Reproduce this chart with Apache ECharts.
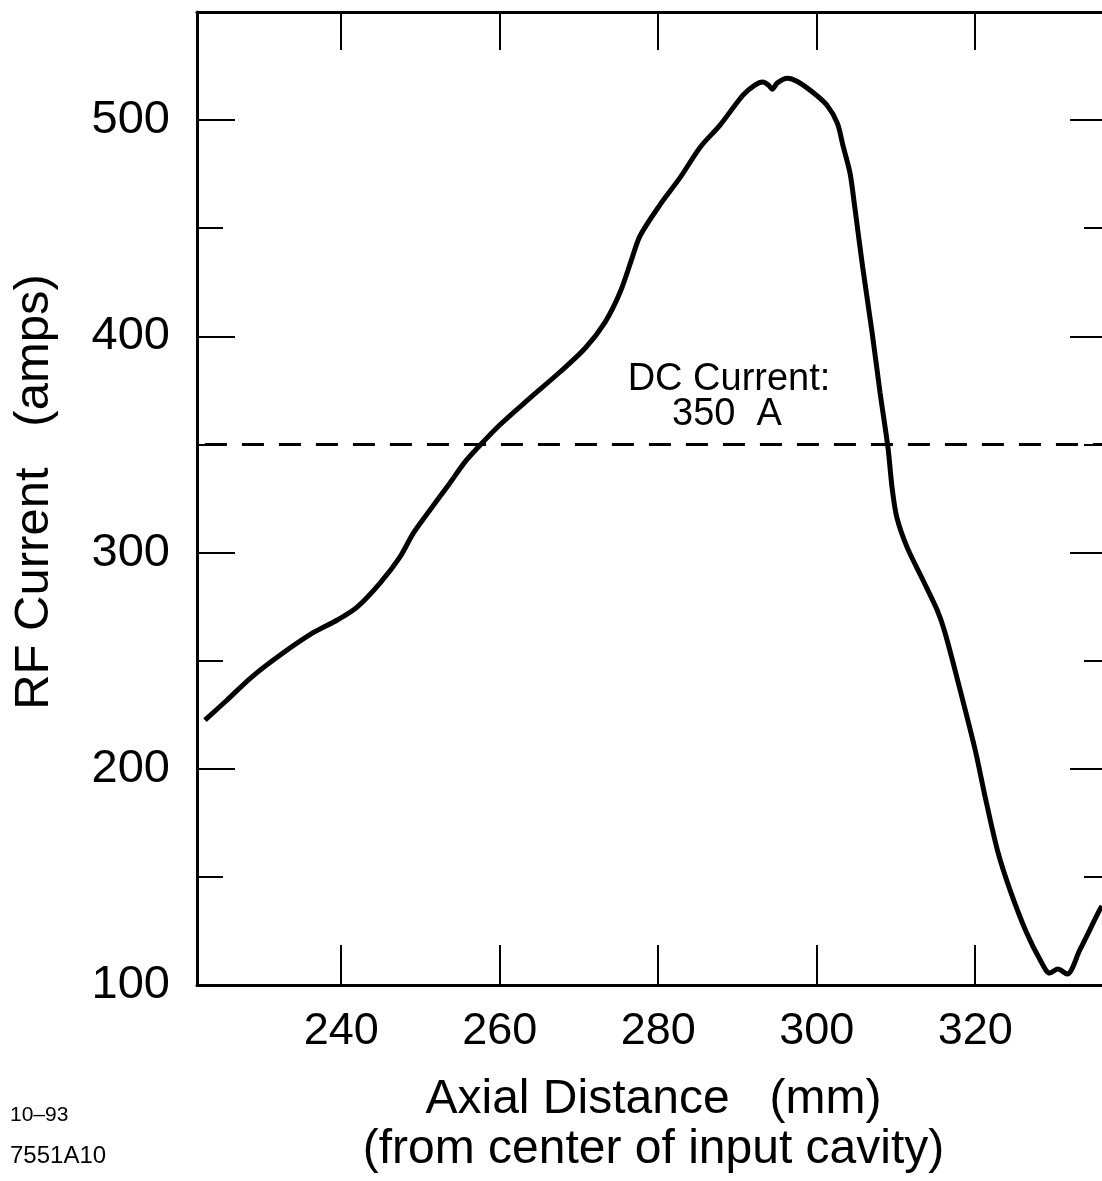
<!DOCTYPE html>
<html>
<head>
<meta charset="utf-8">
<script src="https://cdn.jsdelivr.net/npm/echarts@6/dist/echarts.min.js"></script>
<style>
html,body{margin:0;padding:0;background:#fff;}
#c{width:1102px;height:1181px;}
</style>
</head>
<body>
<div id="c"></div>
<script>
// Axial distance (mm)
const xValues = [222.8,225.6,228.7,232.3,236.4,239.5,242.0,244.9,247.4,249.1,251.2,253.7,255.6,257.3,260.0,263.8,267.6,270.8,273.3,275.2,276.7,277.7,280.2,282.8,285.3,287.8,290.7,292.2,293.2,293.9,294.4,295.0,296.3,297.5,299.5,301.3,302.6,303.3,304.2,304.8,305.8,307.0,308.0,309.0,309.5,310.1,311.4,313.4,315.2,316.2,318.1,320.0,321.2,322.8,324.4,326.5,328.2,329.4,330.4,331.6,333.2,335.7,336.0];
// RF current (amps)
const rfCurrent = [222.5,231.8,242.4,252.6,262.8,268.8,274.8,285.9,297.9,309.0,319.7,332.1,341.8,348.8,359.0,371.4,383.5,394.6,406.6,420.5,436.2,446.4,460.7,473.6,487.5,497.7,511.6,516.2,517.6,516.2,514.3,517.1,519.4,518.0,512.9,506.9,498.6,488.4,475.5,459.8,432.0,401.5,373.8,348.3,330.3,316.4,302.5,287.3,273.4,262.8,236.4,208.7,187.9,162.4,143.9,124.0,111.6,105.5,107.4,105.1,116.2,134.7,136.5];
const dcCurrent = 350;
const xTicks = [240,260,280,300,320];
const yMajorTicks = [100,200,300,400,500];
const yMinorTicks = [150,250,350,450];
const xRange = [221.8, 336.0];
const yRange = [100, 550];

const FONT = 'Liberation Sans';
const chart = echarts.init(document.getElementById('c'), null, {renderer:'canvas'});

const seriesData = xValues.map((x,i)=>[x, rfCurrent[i]]);

const lineW = 3;
function yAx(pos, ticks, len, showLine, showLabel){
  return {
    type:'value', position:pos, min:yRange[0], max:yRange[1],
    axisLine:{show:showLine, onZero:false, lineStyle:{color:'#000', width:lineW}},
    axisTick:{show:true, inside:true, length:len, customValues:ticks, lineStyle:{color:'#000', width:2}},
    axisLabel:{show:showLabel, customValues:ticks, fontFamily:FONT, fontSize:47, color:'#000', margin:27},
    splitLine:{show:false}
  };
}

chart.setOption({
  animation:false,
  backgroundColor:'#fff',
  grid:{left:197, top:12, right:0, bottom:196, containLabel:false},
  xAxis:[
    {
      type:'value', position:'bottom', min:xRange[0], max:xRange[1],
      axisLine:{show:true, onZero:false, lineStyle:{color:'#000', width:lineW}},
      axisTick:{show:true, inside:true, length:40, customValues:xTicks, lineStyle:{color:'#000', width:2}},
      axisLabel:{customValues:xTicks, fontFamily:FONT, fontSize:45, color:'#000', margin:24},
      splitLine:{show:false},
      name:'Axial Distance   (mm)\n(from center of input cavity)',
      nameLocation:'middle', nameGap:90,
      nameTextStyle:{fontFamily:FONT, fontSize:48, color:'#000', lineHeight:50, padding:[0,0,0,8]}
    },
    {
      type:'value', position:'top', min:xRange[0], max:xRange[1],
      axisLine:{show:true, onZero:false, lineStyle:{color:'#000', width:lineW}},
      axisTick:{show:true, inside:true, length:38, customValues:xTicks, lineStyle:{color:'#000', width:2}},
      axisLabel:{show:false},
      splitLine:{show:false}
    }
  ],
  yAxis:[
    yAx('left', yMajorTicks, 38, true, true),
    yAx('left', yMinorTicks, 26, false, false),
    yAx('right', yMajorTicks, 32, false, false),
    yAx('right', yMinorTicks, 18, false, false)
  ],
  series:[{
    type:'line',
    xAxisIndex:0, yAxisIndex:0,
    data:seriesData,
    smooth:0.3,
    showSymbol:false,
    lineStyle:{color:'#000', width:5},
    markLine:{
      silent:true,
      symbol:['none','none'],
      label:{show:false},
      lineStyle:{color:'#000', width:3, type:[22,15]},
      data:[[{coord:[222.8, dcCurrent]},{coord:[xRange[1], dcCurrent]}]]
    }
  }],
  graphic:[
    {type:'text', x:34, y:492, rotation:Math.PI/2, style:{text:'RF Current   (amps)', fontFamily:FONT, fontSize:49, fill:'#000', align:'center', verticalAlign:'middle'}},
    {type:'text', x:729, y:380, style:{text:'DC Current:', fontFamily:FONT, fontSize:38, fill:'#000', align:'center', verticalAlign:'middle'}},
    {type:'text', x:727, y:415, style:{text:'350  A', fontFamily:FONT, fontSize:38, fill:'#000', align:'center', verticalAlign:'middle'}},
    {type:'text', x:10, y:1115, style:{text:'10–93', fontFamily:FONT, fontSize:21, fill:'#000', align:'left', verticalAlign:'middle'}},
    {type:'text', x:10, y:1156, style:{text:'7551A10', fontFamily:FONT, fontSize:24, fill:'#000', align:'left', verticalAlign:'middle'}}
  ]
});
</script>
</body>
</html>
